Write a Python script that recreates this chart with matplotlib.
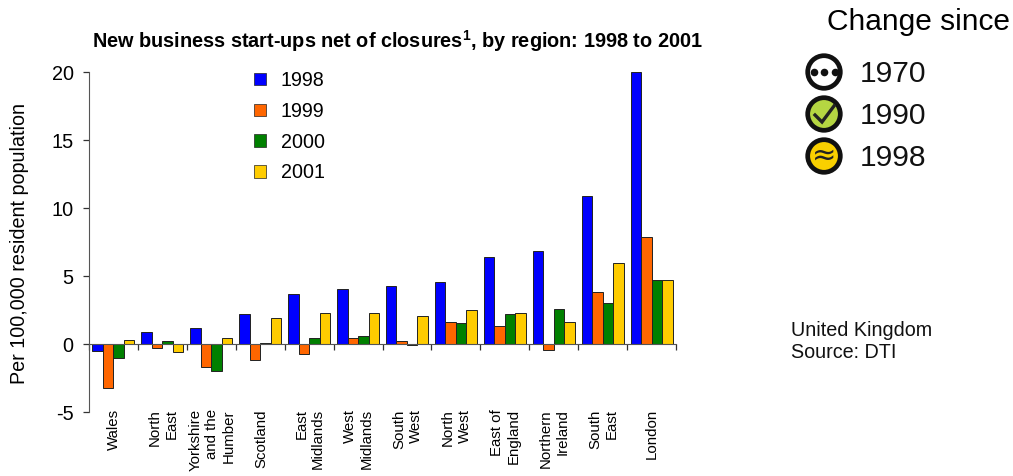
import matplotlib
matplotlib.use("Agg")
import matplotlib.pyplot as plt
from matplotlib.patches import Circle, Patch
import numpy as np

plt.rcParams['font.family'] = ['Liberation Sans', 'DejaVu Sans']
plt.rcParams['mathtext.fontset'] = 'custom'
plt.rcParams['mathtext.bf'] = 'Liberation Sans:bold'
plt.rcParams['mathtext.rm'] = 'Liberation Sans'
plt.rcParams['axes.unicode_minus'] = False

regions = ["Wales", "North\nEast", "Yorkshire\nand the\nHumber", "Scotland",
           "East\nMidlands", "West\nMidlands", "South\nWest", "North\nWest",
           "East of\nEngland", "Northern\nIreland", "South\nEast", "London"]
y1998 = [-0.5, 0.85, 1.15, 2.2, 3.65, 4.05, 4.3, 4.55, 6.4, 6.85, 10.9, 20.0]
y1999 = [-3.2, -0.3, -1.7, -1.2, -0.7, 0.45, 0.2, 1.6, 1.3, -0.45, 3.8, 7.9]
y2000 = [-1.0, 0.25, -2.0, 0.05, 0.45, 0.6, -0.1, 1.55, 2.2, 2.6, 3.0, 4.7]
y2001 = [0.3, -0.6, 0.45, 1.9, 2.3, 2.3, 2.05, 2.5, 2.3, 1.65, 5.95, 4.7]
series_names = ["1998", "1999", "2000", "2001"]
series_values = [y1998, y1999, y2000, y2001]
series_colors = ["#0000FF", "#FF6600", "#008000", "#FFCC00"]
yticks = [-5, 0, 5, 10, 15, 20]
change_years = ["1970", "1990", "1998"]

W, H = 1013, 476
fig = plt.figure(figsize=(W / 100, H / 100), dpi=100)
ax = fig.add_axes([89 / W, 1 - 412 / H, (676 - 89) / W, (412 - 72) / H])

bw = 0.215
x = np.arange(len(regions))
for i, (name, vals, col) in enumerate(zip(series_names, series_values, series_colors)):
    ax.bar(x + (i - 1.5) * bw, vals, bw, color=col, edgecolor="#222222",
           linewidth=0.7, label=name, zorder=3)

ax.set_xlim(-0.5, len(regions) - 0.5)
ax.set_ylim(-5, 20)
ax.set_yticks(yticks)
ax.set_xticks(np.arange(len(regions) + 1) - 0.5)
ax.set_xticklabels([])
for s in ('top', 'right'):
    ax.spines[s].set_visible(False)
ax.spines['bottom'].set_position(('data', 0))
ax.spines['bottom'].set_color('#555555')
ax.spines['left'].set_color('#555555')
ax.spines['bottom'].set_zorder(4)
ax.tick_params(axis='y', labelsize=14.3, length=4, width=0.9, color='#333333', pad=7)
ax.tick_params(axis='x', length=4, width=0.9, color='#333333', direction='out')
ax.set_ylabel("Per 100,000 resident population", fontsize=14.2)
ax.yaxis.set_label_coords(-60 / 587, 0.495)

for xi, name in zip(x, regions):
    ax.annotate(name, xy=(xi, 0), xycoords=ax.get_xaxis_transform(),
                xytext=(0.5, 2), textcoords='offset points', rotation=90, fontsize=10.8,
                va='top', ha='center', multialignment='right', linespacing=1.25,
                annotation_clip=False)

ax.legend(handles=[Patch(facecolor=c, edgecolor='#222222', linewidth=0.5, label=n)
                   for n, c in zip(series_names, series_colors)],
          loc='upper left', bbox_to_anchor=((250 - 89) / 587, 1.0 + 5 / 340),
          frameon=False, fontsize=14.2, handlelength=0.6, handleheight=0.6,
          labelspacing=0.6, handletextpad=0.75, borderpad=0.2, borderaxespad=0)

# overlay in pixel coordinates for title, icons and notes
ov = fig.add_axes([0, 0, 1, 1], facecolor='none')
ov.set_xlim(0, W)
ov.set_ylim(H, 0)
ov.axis('off')
ov.text(92, 41, r"New business start-ups net of closures$^{\mathbf{1}}$, by region: 1998 to 2001",
        fontsize=14.35, fontweight='bold', va='center', ha='left')
ov.text(827, 22, "Change since", fontsize=21.5, va='center', ha='left')
ys = [72, 114, 156]
fills = ["white", "#B5D642", "#F9D000"]
for yy, year, fc in zip(ys, change_years, fills):
    ov.add_patch(Circle((824, yy), 16.3, facecolor=fc, edgecolor='#111111', linewidth=3.4))
    ov.text(860, yy + 2, year, fontsize=21.6, va='center', ha='left', color='#111111')
ov.scatter([813.5, 824, 834.5], [72, 72, 72], s=30, color='#111111', zorder=5, linewidths=0)
ov.plot([815, 822, 834], [115, 122, 106], color='#222222', lw=2.4, solid_joinstyle='miter', zorder=5)
ov.text(824, 156, "\u2248", family='DejaVu Sans', fontsize=21, ha='center', va='center', color='#222222')
ov.text(791, 331, "United Kingdom", fontsize=14.2, va='center', ha='left', color='#111111')
ov.text(791, 352, "Source: DTI", fontsize=14.2, va='center', ha='left', color='#111111')

fig.savefig("out.png", dpi=100)
